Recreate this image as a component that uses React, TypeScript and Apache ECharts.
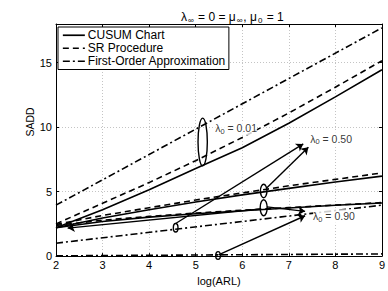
import React, { useEffect, useRef } from "react";
import * as echarts from "echarts";

// ---- data ----
const logARL = [2, 3, 4, 5, 6, 7, 8, 9];
const cusumL001 = [2.2, 3.6, 5.15, 6.8, 8.4, 10.3, 12.35, 14.45];
const srL001 = [2.5, 4.1, 5.7, 7.4, 9.2, 11.1, 13.1, 15.15];
const cusumL050 = [2.2, 2.95, 3.6, 4.2, 4.75, 5.25, 5.75, 6.2];
const srL050 = [2.45, 3.15, 3.75, 4.35, 4.9, 5.45, 5.95, 6.45];
const cusumL090 = [2.2, 2.68, 3.02, 3.29, 3.52, 3.73, 3.94, 4.12];
const srL090 = [2.38, 2.78, 3.08, 3.34, 3.56, 3.76, 3.96, 4.15];

const approxARL = [2, 9];
const approxL001 = [3.95, 17.7];
const approxL050 = [1.0, 3.95];
const approxL090 = [0.02, 0.17];

const seriesNames = ["CUSUM Chart", "SR Procedure", "First-Order Approximation"];

// annotation labels (lambda_0 values) and where they sit
const lambdaLabels = ["0.01", "0.50", "0.90"];
const lambdaLabelX = [5.42, 7.46, 7.52];
const lambdaLabelY = [9.9, 9.1, 3.1];

// ellipses marking curve groups: centre and half extents, in data units
const ellipseX = [5.15, 4.57, 6.46, 6.46, 5.48];
const ellipseY = [8.85, 2.2, 5.05, 3.75, 0.05];
const ellipseHalfW = [0.1, 0.05, 0.07, 0.075, 0.05];
const ellipseHalfH = [1.85, 0.33, 0.52, 0.62, 0.3];

// arrows from ellipses to labels
const arrowFromX = [4.57, 6.53, 6.53, 5.49, 6.4];
const arrowFromY = [2.53, 5.3, 3.82, 0.1, 3.65];
const arrowToX = [7.31, 7.42, 7.35, 7.35, 2.25];
const arrowToY = [8.7, 8.44, 3.47, 3.13, 2.17];

const FONT = "Liberation Sans, Arial, Helvetica, sans-serif";
const BLACK = "#000";

export default function App() {
  const ref = useRef<HTMLDivElement>(null);

  useEffect(() => {
    if (!ref.current) return;
    const chart = echarts.init(ref.current, undefined, { renderer: "svg" });

    const pairs = (xs: number[], ys: number[]) => xs.map((x, i) => [x, ys[i]]);
    const DASH = [6, 4];
    const DASHDOT = [7, 3, 2, 3];
    const mkLine = (name: string, data: number[][], type: any) => ({
      type: "line",
      name,
      data,
      xAxisIndex: 0,
      yAxisIndex: 0,
      symbol: "none",
      showSymbol: false,
      smooth: false,
      silent: true,
      lineStyle: { color: BLACK, width: 1.6, type },
      itemStyle: { color: BLACK },
      z: 3,
    });

    const ellipseData = ellipseX.map((x, i) => [x, ellipseY[i], ellipseHalfW[i], ellipseHalfH[i]]);
    const arrowData = arrowFromX.map((x, i) => ({
      coords: [
        [x, arrowFromY[i]],
        [arrowToX[i], arrowToY[i]],
      ],
    }));
    const labelData = lambdaLabels.map((t, i) => ({
      value: [lambdaLabelX[i], lambdaLabelY[i]],
      name: t,
    }));

    const rich = {
      a: { fontSize: 10.5, fontFamily: FONT, color: BLACK },
      s: { fontSize: 7.5, fontFamily: FONT, color: BLACK, padding: [6, 0, 0, 0] },
    };

    chart.setOption({
      animation: false,
      backgroundColor: "#fff",
      title: {
        text: "{t|λ}{s|∞}{t| = 0 = μ}{s|∞}{t|, μ}{s|0}{t| = 1}",
        left: 176,
        top: 4,
        textStyle: {
          fontWeight: "normal",
          rich: {
            t: { fontSize: 12, fontFamily: FONT, color: BLACK, fontWeight: "normal" },
            s: { fontSize: 8, fontFamily: FONT, color: BLACK, fontWeight: "normal", padding: [7, 1, 0, 1] },
          },
        },
      },
      legend: {
        orient: "vertical",
        left: 58,
        top: 27,
        padding: [2, 3, 2, 4],
        itemGap: 0.5,
        itemWidth: 22,
        itemHeight: 10,
        backgroundColor: "#fff",
        borderColor: BLACK,
        borderWidth: 1,
        borderRadius: 0,
        data: seriesNames,
        selectedMode: false,
        itemStyle: { color: "transparent", borderColor: "transparent", borderWidth: 0, opacity: 0 },
        lineStyle: { width: 1.7 },
        textStyle: { fontSize: 12, fontFamily: FONT, color: BLACK, lineHeight: 12.5, padding: [0, 0, 0, -2] },
      },
      grid: { left: 56, right: 6, top: 24, bottom: 28, containLabel: false },
      xAxis: [
        {
          type: "value",
          min: 2,
          max: 9,
          interval: 1,
          position: "bottom",
          name: "log(ARL)",
          nameLocation: "middle",
          nameGap: 15,
          nameTextStyle: { fontSize: 11, fontFamily: FONT, color: BLACK },
          axisLine: { show: true, onZero: false, lineStyle: { color: BLACK, width: 1 } },
          axisTick: { show: true, inside: true, length: 3, lineStyle: { color: BLACK } },
          axisLabel: { fontSize: 11, fontFamily: FONT, color: BLACK, margin: 3 },
          splitLine: { show: true, lineStyle: { color: "#c4c4c4", type: [1, 2], width: 1 } },
        },
        {
          type: "value",
          min: 2,
          max: 9,
          interval: 1,
          position: "top",
          axisLine: { show: true, onZero: false, lineStyle: { color: BLACK, width: 1 } },
          axisTick: { show: true, inside: true, length: 3, lineStyle: { color: BLACK } },
          axisLabel: { show: false },
          splitLine: { show: false },
        },
      ],
      yAxis: [
        {
          type: "value",
          min: 0,
          max: 18,
          interval: 5,
          position: "left",
          axisLine: { show: true, onZero: false, lineStyle: { color: BLACK, width: 1 } },
          axisTick: { show: true, inside: true, length: 3, lineStyle: { color: BLACK } },
          axisLabel: { fontSize: 11, fontFamily: FONT, color: BLACK, margin: 4, showMaxLabel: false },
          splitLine: { show: true, lineStyle: { color: "#c4c4c4", type: [1, 2], width: 1 } },
        },
        {
          type: "value",
          min: 0,
          max: 18,
          interval: 5,
          position: "right",
          axisLine: { show: true, onZero: false, lineStyle: { color: BLACK, width: 1 } },
          axisTick: { show: true, inside: true, length: 3, lineStyle: { color: BLACK } },
          axisLabel: { show: false },
          splitLine: { show: false },
        },
      ],
      graphic: [
        {
          type: "text",
          x: 30,
          y: 122,
          rotation: Math.PI / 2,
          style: {
            text: "SADD",
            fontSize: 10.5,
            fontFamily: FONT,
            fill: BLACK,
            align: "center",
            verticalAlign: "middle",
          },
        },
      ],
      series: [
        mkLine(seriesNames[0], pairs(logARL, cusumL001), "solid"),
        mkLine(seriesNames[1], pairs(logARL, srL001), DASH),
        mkLine(seriesNames[2], pairs(approxARL, approxL001), DASHDOT),
        mkLine(seriesNames[0], pairs(logARL, cusumL050), "solid"),
        mkLine(seriesNames[1], pairs(logARL, srL050), DASH),
        mkLine(seriesNames[2], pairs(approxARL, approxL050), DASHDOT),
        mkLine(seriesNames[0], pairs(logARL, cusumL090), "solid"),
        mkLine(seriesNames[1], pairs(logARL, srL090), DASH),
        mkLine(seriesNames[2], pairs(approxARL, approxL090), DASHDOT),
        {
          type: "custom",
          name: "ellipses",
          xAxisIndex: 0,
          yAxisIndex: 0,
          clip: false,
          silent: true,
          z: 4,
          encode: { x: 0, y: 1 },
          data: ellipseData,
          renderItem: (params: any, api: any) => {
            const c = api.coord([api.value(0), api.value(1)]);
            const s = api.size([api.value(2), api.value(3)]);
            return {
              type: "ellipse",
              shape: { cx: c[0], cy: c[1], rx: s[0], ry: s[1] },
              style: { fill: "none", stroke: BLACK, lineWidth: 1.4 },
            };
          },
        },
        {
          type: "lines",
          name: "arrows",
          coordinateSystem: "cartesian2d",
          xAxisIndex: 0,
          yAxisIndex: 0,
          silent: true,
          z: 4,
          symbol: ["none", "arrow"],
          symbolSize: 7,
          lineStyle: { color: BLACK, width: 1.4, opacity: 1, curveness: 0 },
          data: arrowData,
        },
        {
          type: "scatter",
          name: "labels",
          xAxisIndex: 0,
          yAxisIndex: 0,
          symbolSize: 0,
          silent: true,
          z: 5,
          data: labelData,
          label: {
            show: true,
            position: [0, 0],
            align: "left",
            verticalAlign: "middle",
            formatter: (p: any) => `{a|λ}{s|0}{a| = ${p.name}}`,
            rich,
            backgroundColor: "#fff",
          },
        },
      ],
    });

    return () => chart.dispose();
  }, []);

  return (
    <div
      ref={ref}
      style={{ position: "fixed", left: 0, top: 0, width: 388, height: 291, background: "#fff" }}
    />
  );
}
